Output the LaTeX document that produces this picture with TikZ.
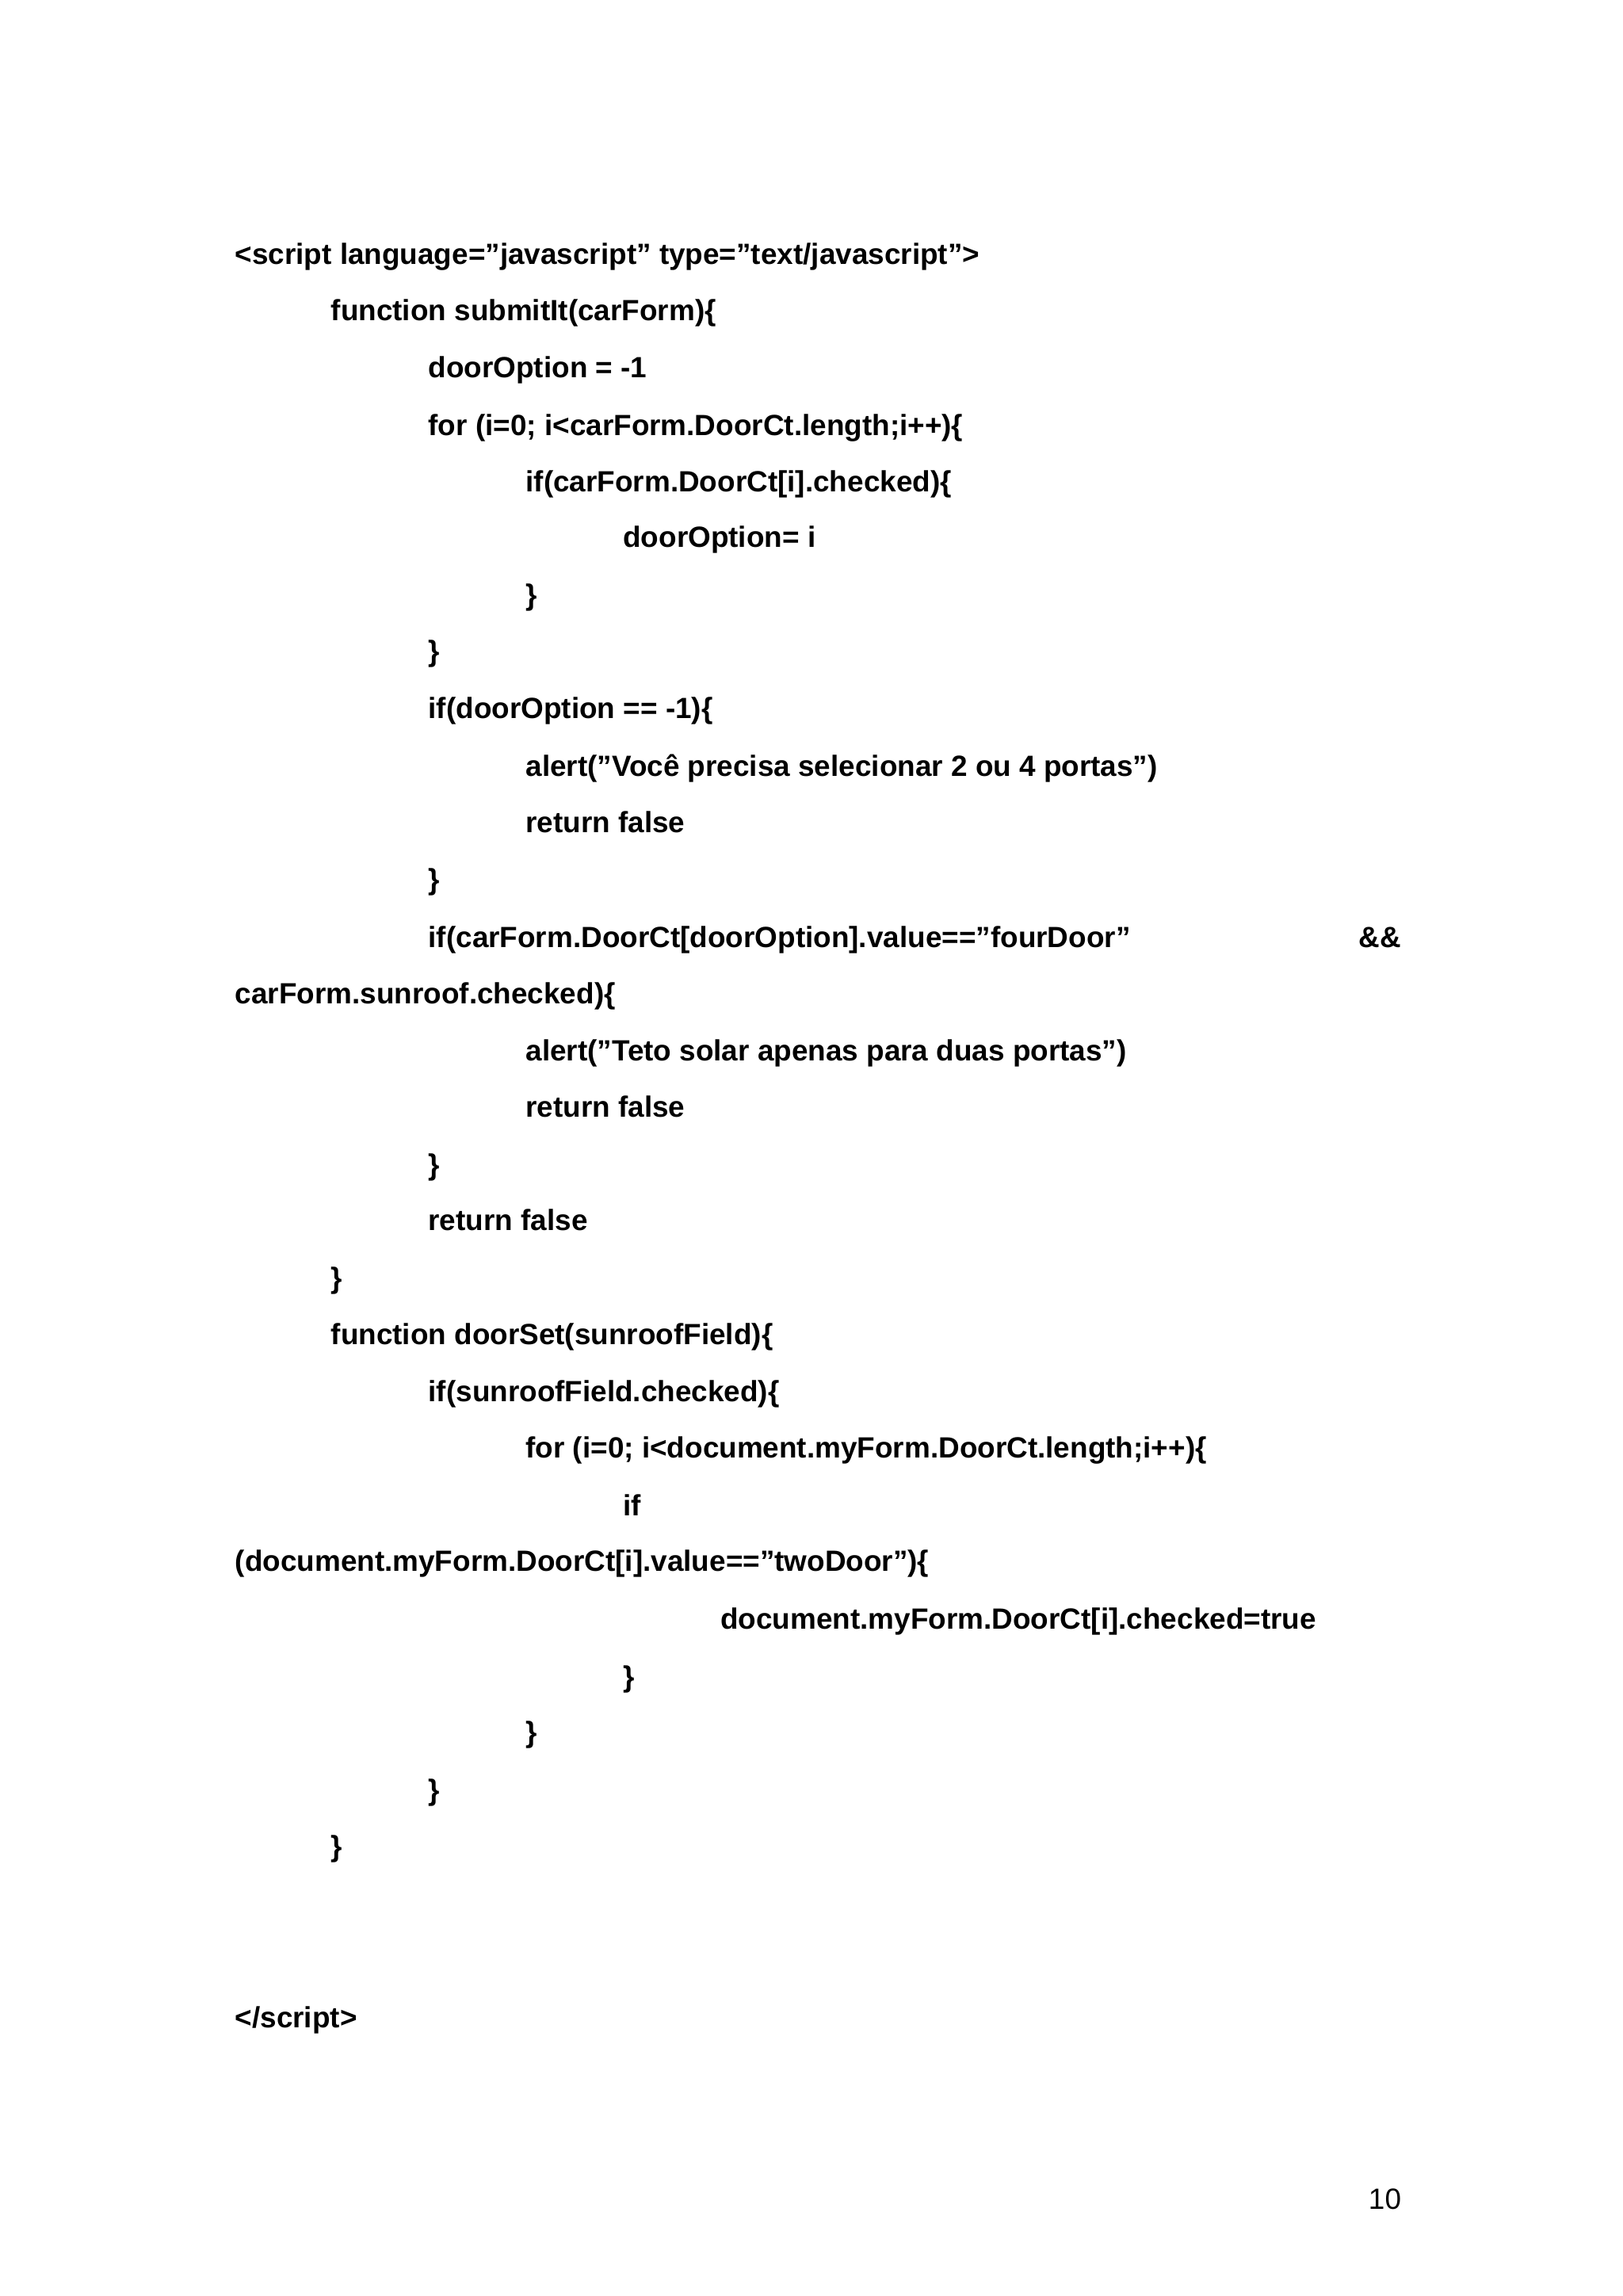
\documentclass[tikz,border=0pt]{standalone}
\usepackage{fontspec}
\setmainfont{Liberation Sans}
\begin{document}
\begin{tikzpicture}[x=0.01862cm,y=-0.01862cm,
  code/.style={anchor=base west,inner sep=0pt,font=\fontsize{10.5}{12}\selectfont\bfseries},
  pnum/.style={anchor=base east,inner sep=0pt,font=\fontsize{10.5}{12}\selectfont}]
\useasboundingbox (0,0) rectangle (1100,1556);
\def\b{7}
\node[code] (l1) at (159,172+\b) {<script language="javascript" type="text/javascript">};
\node[code] (l2) at (224,210+\b) {function submitIt(carForm)\{};
\node[code] (l3) at (290,249+\b) {doorOption = -1};
\node[code] (l4) at (290,288+\b) {for (i=0; i<carForm.DoorCt.length;i++)\{};
\node[code] (l5) at (356,326+\b) {if(carForm.DoorCt[i].checked)\{};
\node[code] (l6) at (422,364+\b) {doorOption= i};
\node[code] (l7) at (356,403+\b) {\}};
\node[code] (l8) at (290,441+\b) {\}};
\node[code] (l9) at (290,480+\b) {if(doorOption == -1)\{};
\node[code] (l10) at (356,519+\b) {alert("Você precisa selecionar 2 ou 4 portas")};
\node[code] (l11) at (356,557+\b) {return false};
\node[code] (l12) at (290,596+\b) {\}};
\node[code] (l13) at (290,635+\b) {if(carForm.DoorCt[doorOption].value=="fourDoor"};
\node[code,anchor=base east] (l13b) at (950,635+\b) {\&\&};
\node[code] (l14) at (159,673+\b) {carForm.sunroof.checked)\{};
\node[code] (l15) at (356,712+\b) {alert("Teto solar apenas para duas portas")};
\node[code] (l16) at (356,750+\b) {return false};
\node[code] (l17) at (290,789+\b) {\}};
\node[code] (l18) at (290,827+\b) {return false};
\node[code] (l19) at (224,866+\b) {\}};
\node[code] (l20) at (224,904+\b) {function doorSet(sunroofField)\{};
\node[code] (l21) at (290,943+\b) {if(sunroofField.checked)\{};
\node[code] (l22) at (356,981+\b) {for (i=0; i<document.myForm.DoorCt.length;i++)\{};
\node[code] (l23) at (422,1020+\b) {if};
\node[code] (l24) at (159,1058+\b) {(document.myForm.DoorCt[i].value=="twoDoor")\{};
\node[code] (l25) at (488,1097+\b) {document.myForm.DoorCt[i].checked=true};
\node[code] (l26) at (422,1136+\b) {\}};
\node[code] (l27) at (356,1174+\b) {\}};
\node[code] (l28) at (290,1213+\b) {\}};
\node[code] (l29) at (224,1251+\b) {\}};
\node[code] (l30) at (159,1367+\b) {</script>};
\node[pnum] (pg) at (950,1490+\b) {10};
\end{tikzpicture}
\end{document}
